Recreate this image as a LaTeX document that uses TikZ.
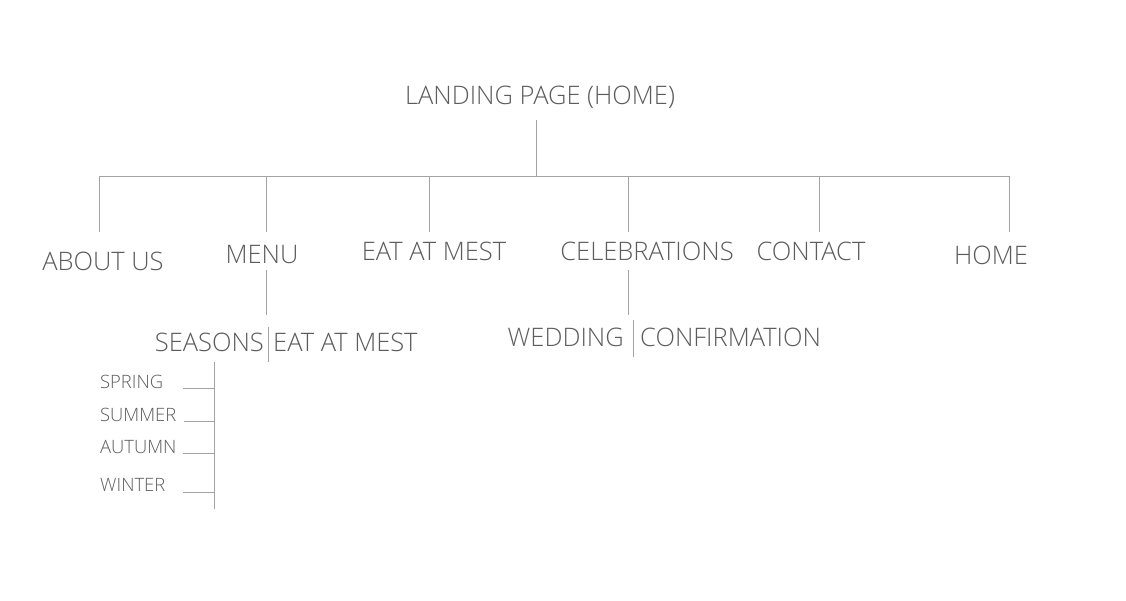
\documentclass[tikz,border=0pt]{standalone}
\usepackage{fontspec}
\setmainfont{Open Sans}[UprightFont=* Light]
\definecolor{txt}{HTML}{5C5C5C}
\definecolor{ln}{HTML}{A3A3A3}
\begin{document}
\begin{tikzpicture}[x=1pt,y=-1pt,
  lbl/.style={text=txt,inner sep=0pt,font=\fontsize{25.5}{25.5}\selectfont,text height=18.2pt,text depth=0pt},
  small/.style={text=txt,inner sep=0pt,font=\fontsize{18.4}{18.4}\selectfont,text height=13.1pt,text depth=0pt,anchor=west},
  conn/.style={draw=ln,line width=0.9pt}]
\useasboundingbox[fill=white] (0,0) rectangle (1126,600);
% nodes
\node[lbl] (title) at (540,95) {LANDING PAGE (HOME)};
\node[lbl] (about) at (103,261) {ABOUT US};
\node[lbl] (menu) at (262,254) {MENU};
\node[lbl] (eat) at (434,251) {EAT AT MEST};
\node[lbl] (celeb) at (647,251) {CELEBRATIONS};
\node[lbl] (contact) at (811,251) {CONTACT};
\node[lbl] (home) at (991,255) {HOME};
\node[lbl,anchor=east] (seasons) at (264,342) {SEASONS};
\node[lbl,anchor=west] (eatsub) at (273,342) {EAT AT MEST};
\node[lbl,anchor=east] (wedding) at (624,337) {WEDDING};
\node[lbl,anchor=west] (confirm) at (640,337) {CONFIRMATION};
\node[small] (spring) at (100,382) {SPRING};
\node[small] (summer) at (100,415) {SUMMER};
\node[small] (autumn) at (100,447) {AUTUMN};
\node[small] (winter) at (100,485) {WINTER};
% coordinates
\coordinate (titleB) at (536,120);
\coordinate (bar) at (536,176);
\coordinate (aboutT) at (99,232);
\coordinate (menuT) at (266,232);
\coordinate (eatT) at (429,232);
\coordinate (celebT) at (628,232);
\coordinate (contactT) at (819,232);
\coordinate (homeT) at (1009,232);
\coordinate (menuB) at (266,270);
\coordinate (menuS) at (266,315);
\coordinate (sepA) at (268,327);
\coordinate (sepB) at (268,362);
\coordinate (seaTop) at (214,362);
\coordinate (seaBot) at (214,509);
\coordinate (springE) at (183,388);
\coordinate (summerE) at (184,421);
\coordinate (autumnE) at (183,453);
\coordinate (winterE) at (183,492);
\coordinate (celebB) at (628,270);
\coordinate (celebS) at (628,315);
\coordinate (sepC) at (633,320);
\coordinate (sepD) at (633,357);
% connectors
\draw[conn] (titleB) -- (bar);
\draw[conn] (aboutT) |- (homeT |- bar) -- (homeT);
\foreach \n in {menuT,eatT,celebT,contactT}{\draw[conn] (\n) -- (\n |- bar);}
\draw[conn] (menuB) -- (menuS);
\draw[conn] (sepA) -- (sepB);
\draw[conn] (seaTop) -- (seaBot);
\foreach \n in {springE,summerE,autumnE,winterE}{\draw[conn] (\n) -- (seaTop |- \n);}
\draw[conn] (celebB) -- (celebS);
\draw[conn] (sepC) -- (sepD);
\end{tikzpicture}
\end{document}
